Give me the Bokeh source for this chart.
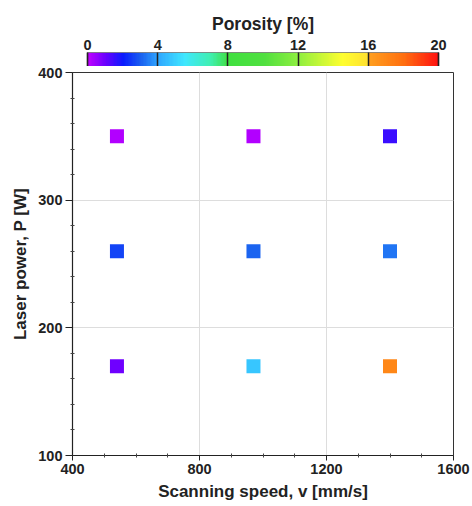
import numpy as np
from bokeh.plotting import figure
from bokeh.layouts import column
from bokeh.models import LinearColorMapper, FixedTicker, ColumnDataSource
from bokeh.transform import linear_cmap
from bokeh.embed import file_html
from bokeh.resources import INLINE

# data
speed = [540, 970, 1400, 540, 970, 1400, 540, 970, 1400]
power = [350, 350, 350, 260, 260, 260, 170, 170, 170]
porosity = [0.2, 0.2, 1.5, 2.6, 3.1, 3.3, 1.0, 4.7, 17.0]
cbar_ticks = [0, 4, 8, 12, 16, 20]
x_ticks = [400, 800, 1200, 1600]
y_ticks = [100, 200, 300, 400]

# palette built from colour stops
stop_pos = [0, 1, 2, 3, 4, 5.5, 7, 8, 10, 12, 14.5, 15.99, 16, 18, 20]
stop_col = ["#c000ff", "#6a00ff", "#0a1cff", "#1a60f0", "#30a8ff", "#40e8ff", "#40f0b0",
            "#40e040", "#50e040", "#90f040", "#ffff30", "#ffe030", "#ffa020", "#ff7010", "#ff1010"]

def hex2rgb(h):
    return [int(h[i:i + 2], 16) for i in (1, 3, 5)]

rgb = np.array([hex2rgb(c) for c in stop_col], dtype=float)
grid = np.linspace(0, 20, 256)
palette = []
for g in grid:
    r = np.interp(g, stop_pos, rgb[:, 0])
    gg = np.interp(g, stop_pos, rgb[:, 1])
    b = np.interp(g, stop_pos, rgb[:, 2])
    palette.append("#%02x%02x%02x" % (int(r), int(gg), int(b)))

lo, hi = cbar_ticks[0], cbar_ticks[-1]
mapper = LinearColorMapper(palette=palette, low=lo, high=hi)
FONT = "Liberation Sans"
TXT = "#222222"
W = 472
L, R = 72, 19
pad = 0.855  # colour bar inset inside the frame width, in porosity units

# colour bar figure
cb = figure(width=W, height=66, x_range=(lo - pad, hi + pad), y_range=(0, 1),
            output_backend="svg", toolbar_location=None,
            min_border_left=L, min_border_right=R, min_border_top=52, min_border_bottom=0,
            x_axis_location="above", title="Porosity [%]")
cb.image(image=[np.linspace(lo, hi, 256).reshape(1, -1)], x=lo, y=0, dw=hi - lo, dh=1, color_mapper=mapper)
cb.rect(x=[(lo + hi) / 2], y=[0.5], width=[hi - lo], height=[1], fill_color=None,
        line_color=TXT, line_width=1.2)
cb.yaxis.visible = False
cb.xgrid.visible = False
cb.ygrid.visible = False
cb.outline_line_color = None
cb.xaxis.ticker = FixedTicker(ticks=cbar_ticks)
cb.xaxis.major_tick_in = 14
cb.xaxis.major_tick_out = 0
cb.xaxis.minor_tick_line_color = None
cb.xaxis.axis_line_color = None
cb.xaxis.major_tick_line_color = TXT
cb.xaxis.major_tick_line_width = 1.5
cb.xaxis.major_label_text_font = FONT
cb.xaxis.major_label_text_font_style = "bold"
cb.xaxis.major_label_text_font_size = "14.5px"
cb.xaxis.major_label_text_color = TXT
cb.xaxis.major_label_standoff = 3
cb.title.align = "center"
cb.title.text_font = FONT
cb.title.text_font_size = "17.5px"
cb.title.text_font_style = "bold"
cb.title.text_color = TXT
cb.title.offset = 0
cb.title.standoff = 6

# main figure
src = ColumnDataSource(dict(v=speed, P=power, por=porosity))
p = figure(width=W, height=506 - 66, x_range=(x_ticks[0], x_ticks[-1]), y_range=(y_ticks[0], y_ticks[-1]),
           output_backend="svg", toolbar_location=None,
           min_border_left=L, min_border_right=R, min_border_top=6, min_border_bottom=51)
p.scatter("v", "P", source=src, marker="square", size=14, line_color=None,
          fill_color=linear_cmap("por", palette, lo, hi))
p.xaxis.ticker = FixedTicker(ticks=x_ticks, minor_ticks=[500, 600, 700, 900, 1000, 1100, 1300, 1400, 1500])
p.yaxis.ticker = FixedTicker(ticks=y_ticks, minor_ticks=[v for v in range(100, 401, 20) if v % 100])
p.xgrid.ticker = FixedTicker(ticks=x_ticks[1:-1])
p.ygrid.ticker = FixedTicker(ticks=y_ticks[1:-1])
p.grid.grid_line_color = "#dddddd"
p.grid.grid_line_width = 1
p.outline_line_color = "#333333"
p.outline_line_width = 1
p.xaxis.axis_label = "Scanning speed, v [mm/s]"
p.yaxis.axis_label = "Laser power, P [W]"
for ax in (p.xaxis, p.yaxis):
    ax.axis_line_color = TXT
    ax.axis_line_width = 1.2
    ax.major_tick_line_color = TXT
    ax.minor_tick_line_color = "#444444"
    ax.major_tick_in = 0
    ax.minor_tick_out = 2
    ax.minor_tick_in = 2
    ax.major_label_text_font = FONT
    ax.major_label_text_font_style = "bold"
    ax.major_label_text_font_size = "14.5px"
    ax.major_label_text_color = TXT
    ax.axis_label_text_font = FONT
    ax.axis_label_text_font_style = "bold"
    ax.axis_label_text_font_size = "17px"
    ax.axis_label_text_color = TXT
p.xaxis.major_tick_out = 5
p.yaxis.major_tick_out = 7
p.xaxis.major_label_standoff = 3
p.xaxis.axis_label_standoff = 5
p.yaxis.major_label_standoff = 3
p.yaxis.axis_label_standoff = 5

layout = column(cb, p, spacing=0)
open("out.html", "w").write(file_html(layout, INLINE))
